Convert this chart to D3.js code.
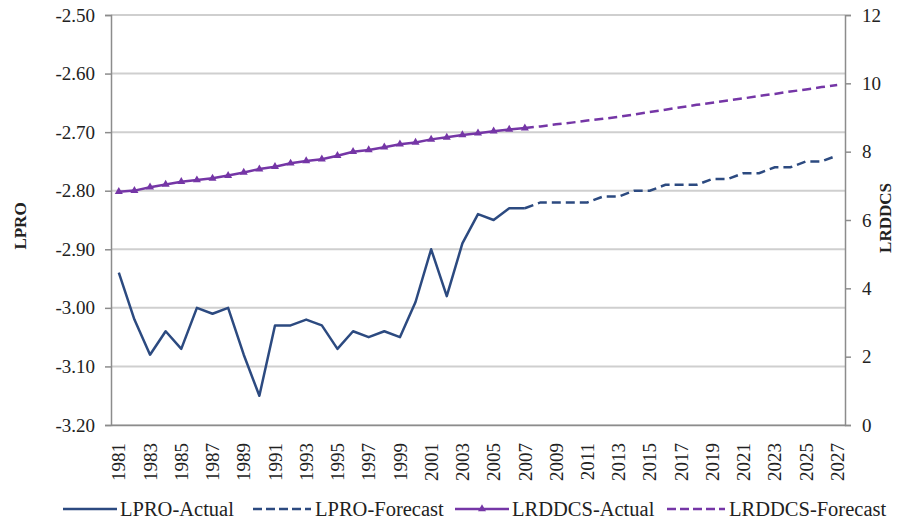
<!DOCTYPE html>
<html>
<head>
<meta charset="utf-8">
<script src="https://cdn.jsdelivr.net/npm/d3@7"></script>
<style>
  body { margin: 0; background: #fff; }
  svg { display: block; }
  text { font-family: "Liberation Serif", "Times New Roman", serif; fill: #222; }
</style>
</head>
<body>
<svg id="chart" width="907" height="520"></svg>
<script>
// categories
const firstYear = 1981, lastYear = 2027;
const years = d3.range(firstYear, lastYear + 1);
const actualYears = d3.range(1981, 2008);
const forecastYears = d3.range(2007, 2028);

// LPRO (left axis)
const lproActual = [-2.94, -3.02, -3.08, -3.04, -3.07, -3.00, -3.01, -3.00, -3.08, -3.15,
  -3.03, -3.03, -3.02, -3.03, -3.07, -3.04, -3.05, -3.04, -3.05, -2.99,
  -2.90, -2.98, -2.89, -2.84, -2.85, -2.83, -2.83];
const lproForecast = [-2.83, -2.82, -2.82, -2.82, -2.82, -2.81, -2.81, -2.80, -2.80, -2.79,
  -2.79, -2.79, -2.78, -2.78, -2.77, -2.77, -2.76, -2.76, -2.75, -2.75, -2.74];

// LRDDCS (right axis)
const lrddcsActual = [6.83, 6.86, 6.96, 7.04, 7.12, 7.17, 7.22, 7.30, 7.39, 7.49,
  7.56, 7.66, 7.73, 7.78, 7.88, 8.00, 8.05, 8.13, 8.22, 8.27,
  8.36, 8.42, 8.49, 8.54, 8.60, 8.65, 8.69];
const lrddcsForecast = [8.69, 8.74, 8.80, 8.85, 8.91, 8.96, 9.02, 9.09, 9.16, 9.23,
  9.30, 9.37, 9.43, 9.50, 9.56, 9.63, 9.69, 9.76, 9.82, 9.89, 9.95];

// tick labels
const leftTicks = [-3.2, -3.1, -3.0, -2.9, -2.8, -2.7, -2.6, -2.5];
const rightTicks = [0, 2, 4, 6, 8, 10, 12];
const xTickYears = years.filter(y => (y - firstYear) % 2 === 0);

const legendItems = ["LPRO-Actual", "LPRO-Forecast", "LRDDCS-Actual", "LRDDCS-Forecast"];

const blue = "#2c4a80", purple = "#7536a6";
const plotLeft = 111, plotRight = 845, plotTop = 15, plotBottom = 425;

const svg = d3.select("#chart");

const x = d3.scaleBand().domain(years).range([plotLeft, plotRight]);
const cx = yr => x(yr) + x.bandwidth() / 2;
const yL = d3.scaleLinear().domain([-3.2, -2.5]).range([plotBottom, plotTop]);
const yR = d3.scaleLinear().domain([0, 12]).range([plotBottom, plotTop]);

// gridlines
svg.append("g")
  .selectAll("line")
  .data(leftTicks)
  .join("line")
  .attr("x1", plotLeft).attr("x2", plotRight)
  .attr("y1", d => yL(d)).attr("y2", d => yL(d))
  .attr("stroke", "#cfcfcf").attr("stroke-width", 2);

// left axis
const gl = svg.append("g")
  .attr("transform", `translate(${plotLeft},0)`)
  .call(d3.axisLeft(yL).tickValues(leftTicks).tickFormat(d => d.toFixed(2)).tickSizeOuter(0).tickSize(6).tickPadding(10));

// right axis
const gr = svg.append("g")
  .attr("transform", `translate(${plotRight},0)`)
  .call(d3.axisRight(yR).tickValues(rightTicks).tickSizeOuter(0).tickSize(6).tickPadding(11));

// bottom axis
const gb = svg.append("g")
  .attr("transform", `translate(0,${plotBottom})`)
  .call(d3.axisBottom(x).tickValues(xTickYears).tickSize(0).tickSizeOuter(0).tickPadding(0));

[gl, gr, gb].forEach(g => {
  g.selectAll(".domain").attr("stroke", "#8c8c8c").attr("stroke-width", 1.5);
  g.selectAll(".tick line").attr("stroke", "#8c8c8c").attr("stroke-width", 1.5);
  g.selectAll(".tick text").attr("fill", "#222")
    .style("font-family", '"Liberation Serif", serif').style("font-size", "19px");
});

gb.selectAll(".tick text")
  .attr("text-anchor", "end")
  .attr("transform", "translate(0,18) rotate(-90)")
  .attr("x", 0).attr("y", 0).attr("dy", "0.35em");

// axis titles
svg.append("text")
  .attr("transform", "translate(20,226) rotate(-90)")
  .attr("text-anchor", "middle").attr("dy", "0.35em")
  .style("font-weight", "bold").style("font-size", "17px")
  .text("LPRO");
svg.append("text")
  .attr("transform", "translate(885,218) rotate(-90)")
  .attr("text-anchor", "middle").attr("dy", "0.35em")
  .style("font-weight", "bold").style("font-size", "17px")
  .text("LRDDCS");

// lines
const lineL = d3.line().x(d => cx(d[0])).y(d => yL(d[1]));
const lineR = d3.line().x(d => cx(d[0])).y(d => yR(d[1]));

svg.append("path")
  .datum(d3.zip(forecastYears, lproForecast))
  .attr("d", lineL).attr("fill", "none")
  .attr("stroke", blue).attr("stroke-width", 2.5).attr("stroke-dasharray", "9,5");
svg.append("path")
  .datum(d3.zip(actualYears, lproActual))
  .attr("d", lineL).attr("fill", "none")
  .attr("stroke", blue).attr("stroke-width", 2.5).attr("stroke-linejoin", "round");

svg.append("path")
  .datum(d3.zip(forecastYears, lrddcsForecast))
  .attr("d", lineR).attr("fill", "none")
  .attr("stroke", purple).attr("stroke-width", 2.5).attr("stroke-dasharray", "9,5");
svg.append("path")
  .datum(d3.zip(actualYears, lrddcsActual))
  .attr("d", lineR).attr("fill", "none")
  .attr("stroke", purple).attr("stroke-width", 2.5);

const tri = d3.symbol(d3.symbolTriangle).size(28);
svg.append("g")
  .selectAll("path")
  .data(d3.zip(actualYears, lrddcsActual))
  .join("path")
  .attr("transform", d => `translate(${cx(d[0])},${yR(d[1])})`)
  .attr("d", tri).attr("fill", purple);

// legend
const legendX = [63, 253, 455, 667];
const legendY = 509;
const lg = svg.append("g");
legendItems.forEach((name, i) => {
  const g = lg.append("g").attr("transform", `translate(${legendX[i]},${legendY})`);
  const col = i < 2 ? blue : purple;
  g.append("line")
    .attr("x1", 0).attr("x2", i % 2 ? 58 : 54).attr("y1", 0).attr("y2", 0)
    .attr("stroke", col).attr("stroke-width", 2.5)
    .attr("stroke-dasharray", i % 2 ? "9,4" : null);
  if (i === 2) {
    g.append("path").attr("transform", "translate(27,0)").attr("d", tri).attr("fill", col);
  }
  g.append("text")
    .attr("x", i % 2 ? 62 : 57).attr("y", 0).attr("dy", "0.35em")
    .style("font-size", "20.5px")
    .text(name);
});
</script>
</body>
</html>
